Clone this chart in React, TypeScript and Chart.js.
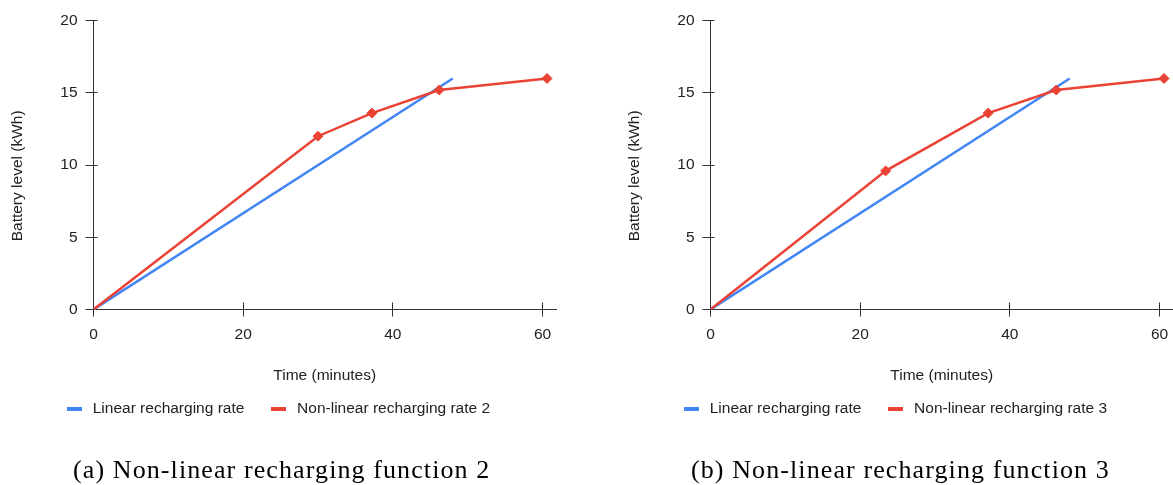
import React, { useEffect, useRef } from 'react';
import { Chart, registerables } from 'chart.js';

Chart.register(...registerables);

// ---- data ----
const linearTime = [0, 48];
const linearLevel = [0, 16];
const nl2Time = [0, 30, 37.2, 46.2, 60.6];
const nl2Level = [0, 12, 13.6, 15.2, 16];
const nl3Time = [0, 23.4, 37.1, 46.2, 60.6];
const nl3Level = [0, 9.6, 13.6, 15.2, 16];
const xTickValues = [0, 20, 40, 60];
const yTickValues = [0, 5, 10, 15, 20];
const linearLabel = 'Linear recharging rate';
const nl2Label = 'Non-linear recharging rate 2';
const nl3Label = 'Non-linear recharging rate 3';
const xTitle = 'Time (minutes)';
const yTitle = 'Battery level (kWh)';
const captions = ['(a) Non-linear recharging function 2', '(b) Non-linear recharging function 3'];

// ---- style ----
const FONT = "'Liberation Sans', Arial, sans-serif";
const TEXT = '#222222';
const AXIS = '#333333';
const BLUE = '#4285F4';
const RED = '#EA4335';
const LEGEND_PAD = 23.5;
const LEGEND_FONT = 15.5;
const TITLE_FONT = 15.5;
const TICK_FONT = 15.5;

const alignPx = (p: number) => Math.round(p - 0.5) + 0.5;

function swatch(color: string) {
  const c = document.createElement('canvas');
  c.width = 15;
  c.height = 4;
  const g = c.getContext('2d')!;
  g.fillStyle = color;
  g.fillRect(0, 0, 15, 4);
  return c;
}

const innerTicks = {
  id: 'innerTicks',
  beforeDatasetsDraw(chart: any) {
    const { ctx, chartArea, scales } = chart;
    ctx.save();
    ctx.strokeStyle = AXIS;
    ctx.lineWidth = 1;
    ctx.beginPath();
    scales.y.ticks.forEach((t: any) => {
      const py = alignPx(scales.y.getPixelForValue(t.value));
      ctx.moveTo(chartArea.left, py);
      ctx.lineTo(chartArea.left + 4, py);
    });
    scales.x.ticks.forEach((t: any) => {
      const px = alignPx(scales.x.getPixelForValue(t.value));
      ctx.moveTo(px, chartArea.bottom);
      ctx.lineTo(px, chartArea.bottom - 7);
    });
    ctx.stroke();
    ctx.restore();
  },
};

const legendPlace = {
  id: 'legendPlace',
  afterLayout(chart: any) {
    const lg = chart.legend;
    if (!lg) return;
    const h = lg.height;
    lg.left = 39.95;
    lg.top = 409 - LEGEND_FONT / 2 - LEGEND_PAD;
    lg.bottom = lg.top + h;
  },
};

function makeConfig(nlTime: number[], nlLevel: number[], nlLabel: string, swatches: any[]): any {
  return {
    type: 'line',
    data: {
      datasets: [
        {
          label: linearLabel,
          data: linearTime.map((x, i) => ({ x, y: linearLevel[i] })),
          borderColor: BLUE,
          backgroundColor: BLUE,
          borderWidth: 2.5,
          pointRadius: 0,
          order: 2,
        },
        {
          label: nlLabel,
          data: nlTime.map((x, i) => ({ x, y: nlLevel[i] })),
          borderColor: RED,
          backgroundColor: RED,
          borderWidth: 2.5,
          pointStyle: 'rectRot',
          pointRadius: nlTime.map((_, i) => (i === 0 ? 0 : 5)),
          pointBorderWidth: 1,
          order: 1,
        },
      ],
    },
    options: {
      responsive: false,
      animation: false,
      events: [],
      layout: { padding: { left: 0, right: 30, top: 20.7, bottom: 36.2 } },
      scales: {
        x: {
          type: 'linear',
          min: 0,
          max: 61.8,
          afterBuildTicks: (s: any) => {
            s.ticks = xTickValues.map((v) => ({ value: v }));
          },
          afterFit: (s: any) => {
            s.height = 75.3;
          },
          grid: { drawOnChartArea: false, drawTicks: true, tickLength: 7, color: AXIS },
          border: { display: true, color: AXIS, width: 1 },
          ticks: { font: { size: TICK_FONT, family: FONT }, color: TEXT, padding: 8.7, maxRotation: 0 },
          title: {
            display: true,
            text: xTitle,
            font: { size: TITLE_FONT, family: FONT },
            color: TEXT,
            padding: { top: 0, bottom: 0 },
          },
        },
        y: {
          type: 'linear',
          min: 0,
          max: 20,
          afterBuildTicks: (s: any) => {
            s.ticks = yTickValues.map((v) => ({ value: v }));
          },
          afterFit: (s: any) => {
            s.width = 93.5;
          },
          grid: { drawOnChartArea: false, drawTicks: true, tickLength: 8, color: AXIS },
          border: { display: true, color: AXIS, width: 1 },
          ticks: { font: { size: TICK_FONT, family: FONT }, color: TEXT, padding: 8 },
          title: {
            display: true,
            // trailing spaces keep the label centred a little below the plot middle, as in the original
            text: yTitle + '     ',
            font: { size: TITLE_FONT, family: FONT },
            color: TEXT,
            padding: { top: 8.7, bottom: 0 },
          },
        },
      },
      plugins: {
        tooltip: { enabled: false },
        title: { display: false },
        legend: {
          display: true,
          position: 'bottom',
          align: 'start',
          labels: {
            font: { size: LEGEND_FONT, family: FONT },
            color: TEXT,
            padding: LEGEND_PAD,
            usePointStyle: true,
            pointStyleWidth: 21.5,
            generateLabels: (chart: any) => {
              const items = Chart.defaults.plugins.legend.labels.generateLabels(chart);
              items.sort((a: any, b: any) => a.datasetIndex - b.datasetIndex);
              items.forEach((it: any) => {
                it.pointStyle = swatches[it.datasetIndex];
                it.lineWidth = 0;
              });
              return items;
            },
          },
        },
      },
    },
    plugins: [innerTicks, legendPlace],
  };
}

const captionStyle = (left: number): React.CSSProperties => ({
  position: 'absolute',
  left,
  top: 457,
  fontFamily: "'Liberation Serif', 'Times New Roman', serif",
  fontSize: 26,
  lineHeight: '26px',
  letterSpacing: '1.1px',
  color: '#000',
  whiteSpace: 'nowrap',
});

export default function App() {
  const refA = useRef<HTMLCanvasElement>(null);
  const refB = useRef<HTMLCanvasElement>(null);

  useEffect(() => {
    const sw = [swatch(BLUE), swatch(RED)];
    const a = new Chart(refA.current!, makeConfig(nl2Time, nl2Level, nl2Label, sw));
    const b = new Chart(refB.current!, makeConfig(nl3Time, nl3Level, nl3Label, sw));
    return () => {
      a.destroy();
      b.destroy();
    };
  }, []);

  return (
    <div
      style={{
        position: 'absolute',
        left: 0,
        top: 0,
        width: 1173,
        height: 485,
        overflow: 'hidden',
        background: '#fff',
      }}
    >
      <canvas ref={refA} width={586} height={470} style={{ position: 'absolute', left: 0, top: 0 }} />
      <canvas ref={refB} width={586} height={470} style={{ position: 'absolute', left: 617, top: 0 }} />
      <div style={captionStyle(73)}>{captions[0]}</div>
      <div style={captionStyle(691)}>{captions[1]}</div>
    </div>
  );
}
